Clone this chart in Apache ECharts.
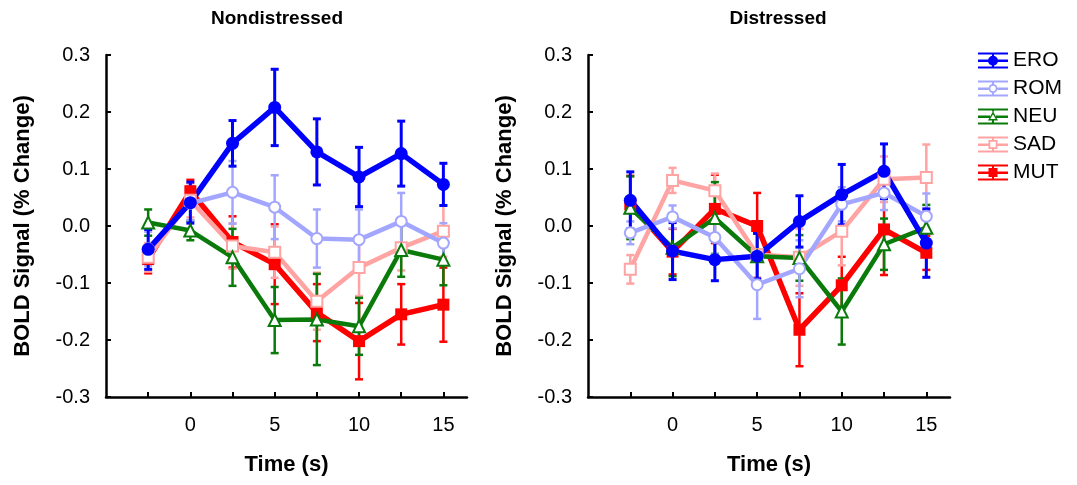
<!DOCTYPE html>
<html>
<head>
<meta charset="utf-8">
<script src="https://cdn.jsdelivr.net/npm/echarts@6/dist/echarts.min.js"></script>
<style>
    html, body { margin: 0; padding: 0; background: #fff; }
    #chart { width: 1077px; height: 485px; }
</style>
</head>
<body>
<div id="chart"></div>
<script>
    // time points (s)
    var times = [-2.5, 0, 2.5, 5, 7.5, 10, 12.5, 15];
    var xTicks = [-2.5, 0, 2.5, 5, 7.5, 10, 12.5, 15];
    var xLabels = [0, 5, 10, 15];
    var panelTitles = ['Nondistressed', 'Distressed'];
    var conditions = ['ERO', 'ROM', 'NEU', 'SAD', 'MUT'];

    // Nondistressed: means and error bar half-lengths
    var eroN = [-0.041, 0.041, 0.145, 0.208, 0.130, 0.086, 0.127, 0.073];
    var eroNErr = [0.035, 0.036, 0.040, 0.067, 0.058, 0.052, 0.057, 0.037];
    var romN = [-0.040, 0.040, 0.059, 0.033, -0.022, -0.024, 0.008, -0.030];
    var romNErr = [0.030, 0.030, 0.055, 0.056, 0.051, 0.053, 0.050, 0.035];
    var neuN = [0.006, -0.008, -0.055, -0.165, -0.164, -0.176, -0.042, -0.059];
    var neuNErr = [0.023, 0.017, 0.050, 0.058, 0.080, 0.050, 0.047, 0.045];
    var sadN = [-0.055, 0.045, -0.035, -0.046, -0.132, -0.073, -0.038, -0.009];
    var sadNErr = [0.025, 0.030, 0.040, 0.045, 0.050, 0.050, 0.040, 0.045];
    var mutN = [-0.058, 0.061, -0.028, -0.067, -0.152, -0.202, -0.155, -0.138];
    var mutNErr = [0.025, 0.020, 0.045, 0.070, 0.050, 0.067, 0.053, 0.065];

    // Distressed
    var eroD = [0.045, -0.044, -0.059, -0.053, 0.008, 0.055, 0.096, -0.030];
    var eroDErr = [0.050, 0.050, 0.037, 0.040, 0.045, 0.053, 0.048, 0.060];
    var romD = [-0.012, 0.016, -0.020, -0.103, -0.075, 0.038, 0.058, 0.017];
    var romDErr = [0.020, 0.020, 0.030, 0.060, 0.050, 0.030, 0.030, 0.040];
    var neuD = [0.032, -0.038, 0.014, -0.053, -0.056, -0.150, -0.032, -0.003];
    var neuDErr = [0.055, 0.050, 0.063, 0.040, 0.040, 0.058, 0.045, 0.040];
    var sadD = [-0.076, 0.080, 0.062, -0.050, -0.055, -0.009, 0.082, 0.085];
    var sadDErr = [0.025, 0.022, 0.030, 0.040, 0.050, 0.060, 0.040, 0.058];
    var mutD = [0.038, -0.045, 0.030, 0.000, -0.182, -0.104, -0.006, -0.047];
    var mutDErr = [0.050, 0.040, 0.060, 0.058, 0.064, 0.050, 0.080, 0.030];

    var FONT = '"Liberation Sans", Arial, sans-serif';

    var styles = {
        ERO: { color: '#0000ff', symbol: 'circle', size: 13, width: 5.5, errWidth: 3 },
        ROM: { color: '#a3a6ff', symbol: 'emptyCircle', size: 11, width: 4.5, errWidth: 2.5 },
        NEU: { color: '#0a7a0a', symbol: 'emptyTriangle', size: 12, width: 4.5, errWidth: 2.5 },
        SAD: { color: '#ffa3a3', symbol: 'emptyRect', size: 11, width: 4.5, errWidth: 2.5 },
        MUT: { color: '#ff0000', symbol: 'rect', size: 12, width: 5.5, errWidth: 2.5 }
    };

    var panels = [
        { ERO: [eroN, eroNErr], ROM: [romN, romNErr], NEU: [neuN, neuNErr], SAD: [sadN, sadNErr], MUT: [mutN, mutNErr] },
        { ERO: [eroD, eroDErr], ROM: [romD, romDErr], NEU: [neuD, neuDErr], SAD: [sadD, sadDErr], MUT: [mutD, mutDErr] }
    ];

    // legend icons: error bar caps + line + marker (30 x 16 box)
    var caps = 'path://M0,0H30V2H0Z M0,14H30V16H0Z ';
    var legendIcons = {
        ERO: caps + 'M0,7H30V9.5H0Z M14,0H16V16H14Z M10,8.2A5,5,0,1,1,20,8.2A5,5,0,1,1,10,8.2Z',
        ROM: caps + 'M0,7H10.5V9.5H0Z M19.5,7H30V9.5H19.5Z M14,0H16V3.7H14Z M14,12.3H16V16H14Z ' +
            'M10.5,8A4.5,4.5,0,1,1,19.5,8A4.5,4.5,0,1,1,10.5,8Z M12.3,8A2.7,2.7,0,1,0,17.7,8A2.7,2.7,0,1,0,12.3,8Z',
        NEU: caps + 'M0,7H12V9.5H0Z M18,7H30V9.5H18Z M14,0H16V3H14Z M14,12H16V16H14Z ' +
            'M15,2.8L20,12H10Z M15,5.8L12.3,10.4H17.7Z',
        SAD: caps + 'M0,7H10.5V9.5H0Z M19.5,7H30V9.5H19.5Z M14,0H16V3.5H14Z M14,12.5H16V16H14Z ' +
            'M10.5,3.5H19.5V12.5H10.5Z M12.3,5.3V10.7H17.7V5.3Z',
        MUT: caps + 'M0,7H30V9.5H0Z M14,0H16V16H14Z M10.5,3.5H19.5V12.5H10.5Z'
    };

    function errRender(params, api) {
        var x = api.value(0);
        var top = api.coord([x, api.value(2)]);
        var bot = api.coord([x, api.value(1)]);
        var w = 4;
        var st = { stroke: api.visual('color'), lineWidth: styles[params.seriesName].errWidth, fill: null };
        return {
            type: 'group',
            children: [
                { type: 'line', shape: { x1: top[0], y1: top[1], x2: bot[0], y2: bot[1] }, style: st },
                { type: 'line', shape: { x1: top[0] - w, y1: top[1], x2: top[0] + w, y2: top[1] }, style: st },
                { type: 'line', shape: { x1: bot[0] - w, y1: bot[1], x2: bot[0] + w, y2: bot[1] }, style: st }
            ]
        };
    }

    var grids = [
        { left: 106, top: 55, width: 361, height: 342 },
        { left: 588, top: 55, width: 362, height: 342 }
    ];

    var xAxes = [], yAxes = [], series = [];
    var drawOrder = ['MUT', 'SAD', 'NEU', 'ROM', 'ERO'];

    grids.forEach(function (g, p) {
        xAxes.push({
            type: 'value', gridIndex: p, min: -5, max: 16.4,
            name: 'Time (s)', nameLocation: 'middle', nameGap: 57,
            nameTextStyle: { fontFamily: FONT, fontSize: 22, fontWeight: 'bold', color: '#000' },
            axisLine: { onZero: false, lineStyle: { color: '#000', width: 2.5 } },
            axisTick: { inside: true, length: 5, customValues: xTicks, lineStyle: { color: '#000', width: 2 } },
            axisLabel: { customValues: xLabels, margin: 18, fontFamily: FONT, fontSize: 20, color: '#000' },
            splitLine: { show: false }
        });
        yAxes.push({
            type: 'value', gridIndex: p, min: -0.3, max: 0.3, interval: 0.1,
            name: 'BOLD Signal (% Change)', nameLocation: 'middle', nameGap: 72,
            nameTextStyle: { fontFamily: FONT, fontSize: 22, fontWeight: 'bold', color: '#000' },
            axisLine: { onZero: false, lineStyle: { color: '#000', width: 2.5 } },
            axisTick: { inside: true, length: 5, lineStyle: { color: '#000', width: 2 } },
            axisLabel: {
                margin: 16, fontFamily: FONT, fontSize: 20, color: '#000',
                formatter: function (v) { return Math.abs(v) < 1e-9 ? '0.0' : v.toFixed(1); }
            },
            splitLine: { show: false }
        });

        drawOrder.forEach(function (c) {
            var s = styles[c];
            var vals = panels[p][c][0];
            var errs = panels[p][c][1];
            series.push({
                name: c, type: 'custom', xAxisIndex: p, yAxisIndex: p,
                itemStyle: { color: s.color },
                renderItem: errRender,
                encode: { x: 0, y: [1, 2] },
                data: times.map(function (t, i) { return [t, vals[i] - errs[i], vals[i] + errs[i]]; }),
                silent: true
            });
            series.push({
                name: c, type: 'line', xAxisIndex: p, yAxisIndex: p,
                symbol: s.symbol, symbolSize: s.size, showAllSymbol: true,
                lineStyle: { color: s.color, width: s.width },
                itemStyle: { color: s.color, borderColor: s.color, borderWidth: s.symbol.indexOf('empty') === 0 ? 2 : 0 },
                data: times.map(function (t, i) { return [t, vals[i]]; })
            });
        });
    });

    var chart = echarts.init(document.getElementById('chart'), null, { renderer: 'canvas' });
    chart.setOption({
        animation: false,
        backgroundColor: '#fff',
        title: [
            { text: panelTitles[0], left: 272, top: 4, textAlign: 'center',
              textStyle: { fontFamily: FONT, fontSize: 19, fontWeight: 'bold', color: '#000' } },
            { text: panelTitles[1], left: 773, top: 4, textAlign: 'center',
              textStyle: { fontFamily: FONT, fontSize: 19, fontWeight: 'bold', color: '#000' } }
        ],
        legend: {
            orient: 'vertical', left: 973, top: 45,
            itemWidth: 30, itemHeight: 16, itemGap: 7, itemTextGap: 9,
            itemStyle: { borderWidth: 0 },
            textStyle: { fontFamily: FONT, fontSize: 21, color: '#000' },
            data: conditions.map(function (c) {
                return { name: c, icon: legendIcons[c], itemStyle: { color: styles[c].color, borderWidth: 0 } };
            })
        },
        grid: grids,
        xAxis: xAxes,
        yAxis: yAxes,
        series: series
    });
</script>
</body>
</html>
